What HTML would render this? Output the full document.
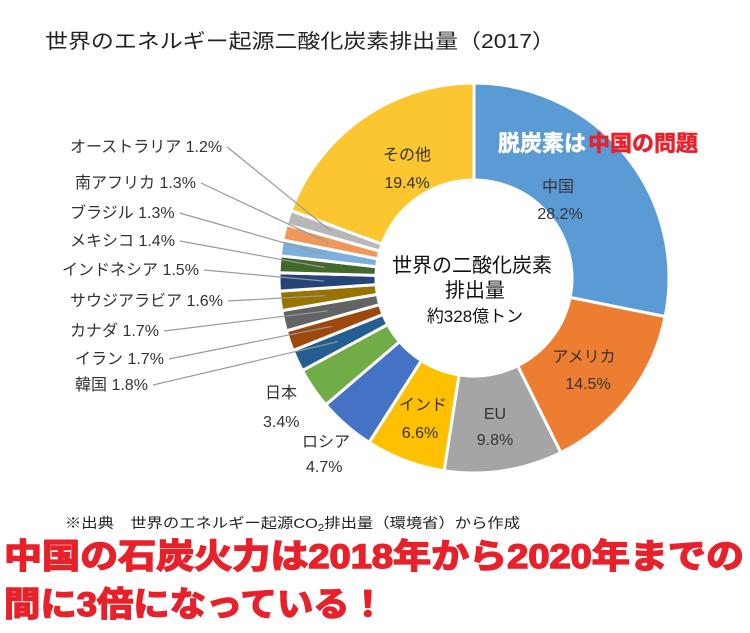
<!DOCTYPE html>
<html><head><meta charset="utf-8"><style>
body{margin:0;background:#fff;width:750px;height:628px;overflow:hidden}
svg{font-family:"Liberation Sans","Noto Sans CJK JP",sans-serif}
</style></head><body>
<svg id="s" width="750" height="628" xmlns="http://www.w3.org/2000/svg">
<text x="45" y="48" font-size="20" fill="#222" textLength="510" lengthAdjust="spacingAndGlyphs">世界のエネルギー起源二酸化炭素排出量（2017）</text>
<g id="pie"></g>
<g font-size="16" fill="#333">
<text x="472" y="272" text-anchor="middle" font-size="20" fill="#111">世界の二酸化炭素</text>
<text x="475" y="297" text-anchor="middle" font-size="20" fill="#111">排出量</text>
<text x="475" y="322" text-anchor="middle" font-size="17" fill="#111">約328億トン</text>
<text x="407" y="160" text-anchor="middle">その他</text><text x="407" y="188" text-anchor="middle">19.4%</text>
<text x="558" y="192" text-anchor="middle">中国</text><text x="560" y="219" text-anchor="middle">28.2%</text>
<text x="584" y="362" text-anchor="middle">アメリカ</text><text x="588" y="389" text-anchor="middle">14.5%</text>
<text x="495" y="419" text-anchor="middle">EU</text><text x="495" y="445" text-anchor="middle">9.8%</text>
<text x="423" y="410" text-anchor="middle">インド</text><text x="420" y="438" text-anchor="middle">6.6%</text>
<text x="302" y="447">ロシア</text><text x="306" y="472">4.7%</text>
<text x="265" y="398">日本</text><text x="263" y="427">3.4%</text>
</g>
<g id="lab" font-size="16" fill="#333"></g>
<text x="498" y="151" font-size="22" font-weight="bold" fill="#fff" stroke="#fff" stroke-width="0.6">脱炭素は</text>
<text x="588" y="151" font-size="22" font-weight="bold" fill="#e8202a" stroke="#e8202a" stroke-width="0.6">中国の問題</text>
<text x="65" y="528" font-size="14" fill="#222" textLength="455" lengthAdjust="spacingAndGlyphs">※出典　世界のエネルギー起源CO<tspan font-size="10" dy="3">2</tspan><tspan dy="-3">排出量（環境省）から作成</tspan></text>
<text x="4" y="568" font-size="34" font-weight="bold" fill="#e8202a" stroke="#e8202a" stroke-width="1.5" textLength="740" lengthAdjust="spacingAndGlyphs">中国の石炭火力は2018年から2020年までの</text>
<text x="4" y="616" font-size="34" font-weight="bold" fill="#e8202a" stroke="#e8202a" stroke-width="1.5" textLength="382" lengthAdjust="spacingAndGlyphs">間に3倍になっている！</text>
</svg>
<script>
var d=[[28.2,"#5b9bd5"],[14.5,"#ed7d31"],[9.8,"#a5a5a5"],[6.6,"#ffc000"],[4.7,"#4472c4"],[3.4,"#70ad47"],[1.8,"#255e91"],[1.7,"#9e480e"],[1.7,"#636363"],[1.6,"#997300"],[1.5,"#264478"],[1.4,"#43682b"],[1.3,"#7cafdd"],[1.3,"#f1975a"],[1.2,"#b7b7b7"],[19.4,"#fcc630"]];
var cx=474,cy=278,R=195,r=98,tot=100.1,a=0,g=document.getElementById("pie"),mids=[];
function p(rad,ang){return [cx+rad*Math.sin(ang),cy-rad*Math.cos(ang)];}
d.forEach(function(e){var a0=a/tot*2*Math.PI;a+=e[0];var a1=a/tot*2*Math.PI;mids.push((a0+a1)/2);
var L=(a1-a0>Math.PI)?1:0,A=p(R,a0),B=p(R,a1),C=p(r,a1),D=p(r,a0);
var el=document.createElementNS("http://www.w3.org/2000/svg","path");
el.setAttribute("d","M"+A+"A"+R+","+R+" 0 "+L+" 1 "+B+"L"+C+"A"+r+","+r+" 0 "+L+" 0 "+D+"Z");
el.setAttribute("fill",e[1]);el.setAttribute("stroke","#fff");el.setAttribute("stroke-width","3");g.appendChild(el);});
var labs=[["韓国 1.8%",75,390,6],["イラン 1.7%",75,364,7],["カナダ 1.7%",70,336,8],["サウジアラビア 1.6%",70,306,9],["インドネシア 1.5%",62,275,10],["メキシコ 1.4%",70,246,11],["ブラジル 1.3%",70,218,12],["南アフリカ 1.3%",75,188,13],["オーストラリア 1.2%",70,152,14]];
var lg=document.getElementById("lab");
labs.forEach(function(l){var t=document.createElementNS("http://www.w3.org/2000/svg","text");
t.setAttribute("x",l[1]);t.setAttribute("y",l[2]);t.textContent=l[0];lg.appendChild(t);
var w=t.getComputedTextLength();var q=p(150,mids[l[3]]);
var ln=document.createElementNS("http://www.w3.org/2000/svg","line");
ln.setAttribute("x1",l[1]+w+5);ln.setAttribute("y1",l[2]-5);ln.setAttribute("x2",q[0]);ln.setAttribute("y2",q[1]);
ln.setAttribute("stroke","#999");ln.setAttribute("stroke-width","1.2");lg.appendChild(ln);});
</script>
</body></html>
